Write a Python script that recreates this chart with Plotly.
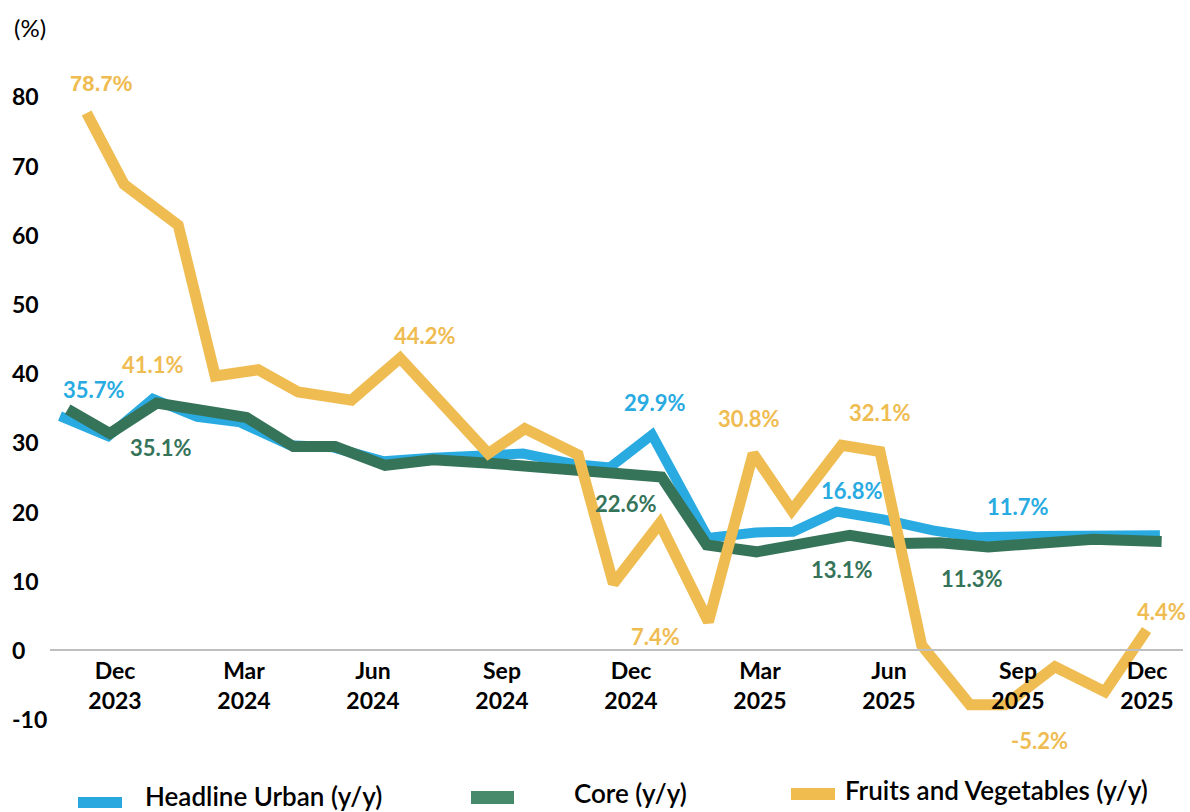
import plotly.graph_objects as go

# month positions: 0 = Dec 2023, 3 = Mar 2024, ... 24 = Dec 2025
tick_vals = [0, 3, 6, 9, 12, 15, 18, 21, 24]
tick_text = ["Dec<br>2023", "Mar<br>2024", "Jun<br>2024", "Sep<br>2024", "Dec<br>2024",
             "Mar<br>2025", "Jun<br>2025", "Sep<br>2025", "Dec<br>2025"]
y_ticks = [-10, 0, 10, 20, 30, 40, 50, 60, 70, 80]

# Headline Urban (y/y)
headline_x = [-1.28, -0.16, 0.88, 1.91, 2.91, 4.07, 5.07, 6.23, 7.4, 8.56, 9.49, 10.65, 11.51,
              12.49, 13.79, 14.9, 15.77, 16.78, 17.86, 19.02, 20.04, 21.58, 22.74, 24.3]
headline_y = [33.8, 30.9, 36.3, 33.7, 32.9, 29.6, 29.3, 27.3, 27.8, 28.2, 28.4, 26.9, 26.4,
              31.1, 16.2, 17.0, 17.1, 20.0, 18.9, 17.3, 16.3, 16.5, 16.6, 16.6]

# Core (y/y)
core_x = [-1.1, -0.12, 0.97, 3.06, 4.15, 5.12, 6.28, 7.4, 8.72, 10.65, 12.71, 13.76, 14.92,
          17.09, 18.26, 19.19, 20.31, 22.75, 24.34]
core_y = [34.8, 31.3, 35.7, 33.6, 29.4, 29.4, 26.7, 27.5, 27.0, 26.0, 25.0, 15.2, 14.2,
          16.6, 15.4, 15.5, 14.9, 16.0, 15.7]

# Fruits and Vegetables (y/y)
fruitveg_x = [-0.66, 0.21, 1.47, 2.33, 3.33, 4.26, 5.5, 6.63, 8.68, 9.53, 10.77, 11.59, 12.67,
              13.8, 14.84, 15.74, 16.9, 17.79, 18.76, 19.88, 20.7, 21.86, 23.02, 23.99]
fruitveg_y = [77.6, 67.3, 61.4, 39.6, 40.5, 37.3, 36.1, 42.2, 28.4, 32.0, 28.2, 9.6, 18.3,
              4.1, 28.4, 20.2, 29.6, 28.7, 0.7, -7.9, -7.9, -2.4, -6.0, 2.9]

BLUE = "#29ABE2"
GREEN = "#36745A"
YELLOW = "#EFBC52"

W, H = 1190, 812
L, R, T, B = 50, 7, 60, 65


def px(x):  # pixel column -> paper x
    return (x - L) / (W - L - R)


def py(y):  # pixel row -> paper y
    return (H - B - y) / (H - T - B)


fig = go.Figure()
fig.add_trace(go.Scatter(x=headline_x, y=headline_y, mode="lines", name="Headline Urban (y/y)",
                         line=dict(color=BLUE, width=10)))
fig.add_trace(go.Scatter(x=core_x, y=core_y, mode="lines", name="Core (y/y)",
                         line=dict(color=GREEN, width=11)))
fig.add_trace(go.Scatter(x=fruitveg_x, y=fruitveg_y, mode="lines", name="Fruits and Vegetables (y/y)",
                         line=dict(color=YELLOW, width=11)))

# value call-outs: text, x, y, colour, font
labels = [
    ("78.7%", -0.33, 81.8, YELLOW, "Liberation Sans"),
    ("35.7%", -0.5, 37.6, BLUE, "Lato"),
    ("41.1%", 0.88, 41.3, YELLOW, "Lato"),
    ("35.1%", 1.07, 29.3, GREEN, "Lato"),
    ("44.2%", 7.21, 45.5, YELLOW, "Lato"),
    ("29.9%", 12.56, 35.8, BLUE, "Lato"),
    ("30.8%", 14.74, 33.5, YELLOW, "Lato"),
    ("22.6%", 11.88, 21.2, GREEN, "Lato"),
    ("7.4%", 12.56, 2.0, YELLOW, "Lato"),
    ("32.1%", 17.79, 34.4, YELLOW, "Lato"),
    ("16.8%", 17.13, 23.1, BLUE, "Lato"),
    ("13.1%", 16.91, 11.6, GREEN, "Lato"),
    ("11.3%", 19.93, 10.4, GREEN, "Lato"),
    ("11.7%", 21.0, 20.8, BLUE, "Lato"),
    ("4.4%", 24.33, 5.6, YELLOW, "Lato"),
    ("-5.2%", 21.49, -13.0, YELLOW, "Lato"),
]
for text, x, y, color, family in labels:
    fig.add_annotation(x=x, y=y, text=text, showarrow=False, xanchor="center", yanchor="middle",
                       font=dict(family=family, size=22, color=color, weight="bold"))

# left-aligned y tick labels
for v in y_ticks:
    fig.add_annotation(xref="paper", yref="y", x=px(10), y=v, text=str(v), showarrow=False,
                       xanchor="left", yanchor="middle",
                       font=dict(family="Lato", size=23, color="black", weight="bold"))

fig.add_annotation(xref="paper", yref="paper", x=px(12), y=py(27), text="(%)", showarrow=False,
                   xanchor="left", yanchor="middle", font=dict(family="Lato", size=24, color="black"))

# legend drawn by hand (swatch, label)
legend = [
    ("#29A8E0", "Headline Urban (y/y)", (78, 122, 797, 808), (143, 796)),
    ("#46896B", "Core (y/y)", (471, 514, 791, 804), (572, 793)),
    ("#F0BC50", "Fruits and Vegetables (y/y)", (791, 835, 788, 800), (843, 790)),
]
for swatch, text, box, pos in legend:
    fig.add_shape(type="rect", xref="paper", yref="paper", x0=px(box[0]), x1=px(box[1]),
                  y0=py(box[3]), y1=py(box[2]), fillcolor=swatch, line=dict(width=0))
    fig.add_annotation(xref="paper", yref="paper", x=px(pos[0]), y=py(pos[1]), text=text,
                       showarrow=False, xanchor="left", yanchor="middle",
                       font=dict(family="Lato", size=26, color="black", weight=600))

fig.update_layout(
    width=W, height=H,
    margin=dict(l=L, r=R, t=T, b=B),
    plot_bgcolor="white", paper_bgcolor="white",
    showlegend=False,
    xaxis=dict(range=[-1.512, 24.837], tickvals=tick_vals, ticktext=tick_text, anchor="free",
               position=14 / 99.26, showline=True, linecolor="#BFBFBF", linewidth=2, ticks="",
               showgrid=False, zeroline=False, automargin=False,
               tickfont=dict(family="Lato", size=23, color="black", weight="bold")),
    yaxis=dict(range=[-14, 85.26], showticklabels=False, showgrid=False, zeroline=False,
               showline=False, automargin=False),
)

fig.write_html("out.html", config={"displayModeBar": False},
               post_script="document.body.style.margin='0';")
